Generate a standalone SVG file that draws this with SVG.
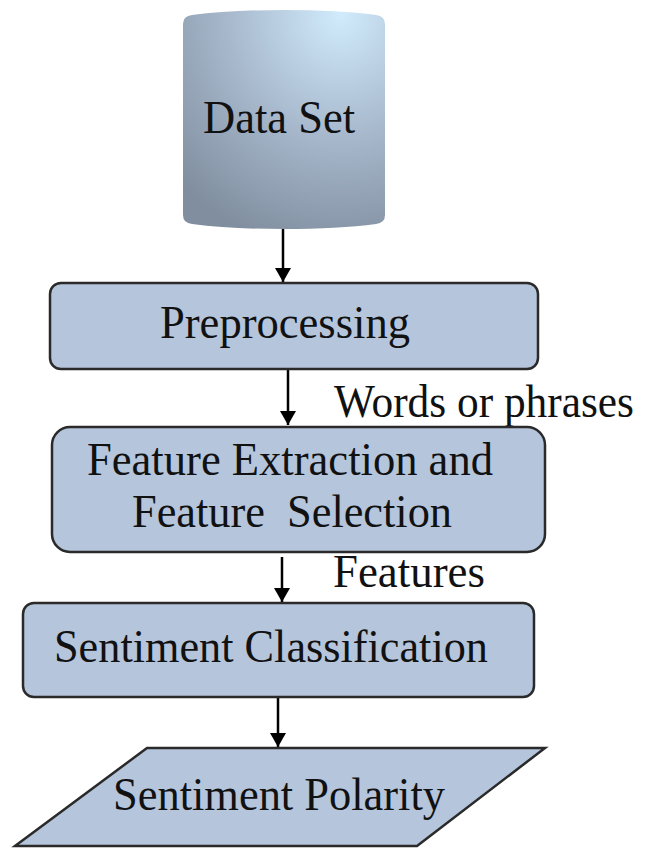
<svg xmlns="http://www.w3.org/2000/svg" width="658" height="848" viewBox="0 0 658 848">
<defs>
<radialGradient id="cyl" cx="0.78" cy="0.02" r="1.1" fx="0.78" fy="0.02">
<stop offset="0" stop-color="#d0ebfc"/>
<stop offset="0.5" stop-color="#a8b9cd"/>
<stop offset="1" stop-color="#808e9f"/>
</radialGradient>
<marker id="ah" viewBox="0 0 10 10" refX="10" refY="5" markerWidth="14" markerHeight="16" markerUnits="userSpaceOnUse" orient="auto" preserveAspectRatio="none">
<path d="M0,0 L10,5 L0,10 Z" fill="#000"/>
</marker>
</defs>
<style>
.box{fill:#b4c5dc;stroke:#2a2a2a;stroke-width:2.5}
.t{font-family:"Liberation Serif","Times New Roman",serif;font-size:47px;fill:#111}
.c{stroke:#000;stroke-width:2.5;fill:none}
</style>
<g id="connectors">
<line class="c" x1="283" y1="229" x2="283" y2="282" marker-end="url(#ah)"/>
<line class="c" x1="288" y1="370" x2="288" y2="425" marker-end="url(#ah)"/>
<line class="c" x1="282" y1="557" x2="282" y2="602" marker-end="url(#ah)"/>
<line class="c" x1="278" y1="698" x2="278" y2="747" marker-end="url(#ah)"/>
</g>
<g id="dataset">
<path d="M183,24 Q183,16 192,15 Q230,10 284,10 Q338,10 376,15 Q385,16 385,24 L385,215 Q385,223 376,224 Q338,229 284,229 Q230,229 192,224 Q183,223 183,215 Z" fill="url(#cyl)"/>
<text class="t" x="279" y="133" text-anchor="middle" textLength="152" lengthAdjust="spacingAndGlyphs">Data Set</text>
</g>
<g id="preprocessing">
<rect class="box" x="50" y="283" width="488" height="86" rx="11"/>
<text class="t" x="285" y="338" text-anchor="middle" textLength="250" lengthAdjust="spacingAndGlyphs">Preprocessing</text>
</g>
<g id="label-words">
<text class="t" x="334" y="417" textLength="300" lengthAdjust="spacingAndGlyphs">Words or phrases</text>
</g>
<g id="feature">
<rect class="box" x="52" y="427" width="493" height="125" rx="18"/>
<text class="t" x="290" y="475" text-anchor="middle" textLength="406" lengthAdjust="spacingAndGlyphs">Feature Extraction and</text>
<text class="t" x="292" y="527" text-anchor="middle" textLength="320" lengthAdjust="spacingAndGlyphs" xml:space="preserve">Feature  Selection</text>
</g>
<g id="label-features">
<text class="t" x="333" y="587" textLength="152" lengthAdjust="spacingAndGlyphs">Features</text>
</g>
<g id="classification">
<rect class="box" x="23" y="603" width="511" height="94" rx="11"/>
<text class="t" x="271" y="662" text-anchor="middle" textLength="434" lengthAdjust="spacingAndGlyphs">Sentiment Classification</text>
</g>
<g id="polarity">
<polygon class="box" points="147,748 545,748 417,846 15,846"/>
<text class="t" x="279" y="810" text-anchor="middle" textLength="332" lengthAdjust="spacingAndGlyphs">Sentiment Polarity</text>
</g>
</svg>
